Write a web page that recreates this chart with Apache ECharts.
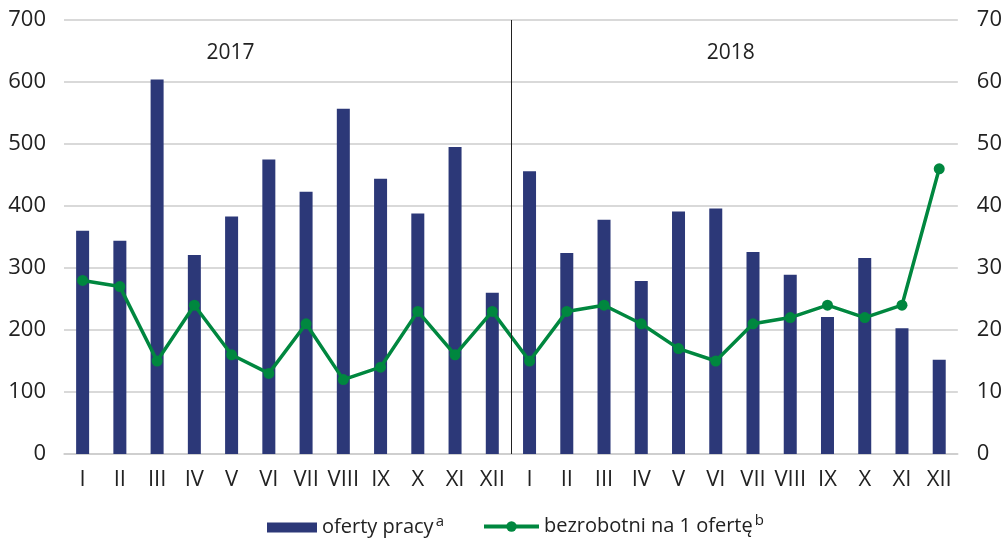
<!DOCTYPE html>
<html>
<head>
<meta charset="utf-8">
<script src="https://cdn.jsdelivr.net/npm/echarts@6/dist/echarts.min.js"></script>
<style>
  html, body { margin: 0; padding: 0; background: #fff; }
  #chart { width: 1005px; height: 544px; }
</style>
</head>
<body>
<div id="chart"></div>
<script>
// miesiące (dwa lata)
const months = ['I', 'II', 'III', 'IV', 'V', 'VI', 'VII', 'VIII', 'IX', 'X', 'XI', 'XII',
  'I', 'II', 'III', 'IV', 'V', 'VI', 'VII', 'VIII', 'IX', 'X', 'XI', 'XII'];
// oferty pracy
const offers = [360, 344, 604, 321, 383, 475, 423, 557, 444, 388, 495, 260,
  456, 324, 378, 279, 391, 396, 326, 289, 221, 316, 203, 152];
// bezrobotni na 1 ofertę
const perOffer = [28, 27, 15, 24, 16, 13, 21, 12, 14, 23, 16, 23,
  15, 23, 24, 21, 17, 15, 21, 22, 24, 22, 24, 46];
const years = ['2017', '2018'];

const FONT = '"Open Sans", "Noto Sans", sans-serif';
const NAVY = '#2c3878';
const GREEN = '#00873f';

let chart = echarts.init(document.getElementById('chart'), null, { renderer: 'canvas' });

const legendRich = {
  t: { fontSize: 20, color: '#222', fontFamily: FONT },
  s: { fontSize: 15, color: '#222', fontFamily: FONT, padding: [0, 0, 12, 2] }
};

let option = {
  backgroundColor: '#ffffff',
  animation: false,
  grid: { left: 64, right: 45, top: 20, bottom: 90 },
  legend: [{
    data: ['oferty pracy'],
    left: 267, top: 514, padding: 0,
    itemWidth: 50, itemHeight: 10,
    itemGap: 5,
    icon: 'rect',
    formatter: () => '{t|oferty pracy}{s|a}',
    textStyle: { rich: legendRich }
  }, {
    data: [{
      name: 'bezrobotni na 1 ofertę',
      lineStyle: { width: 4, color: GREEN },
      itemStyle: { color: GREEN }
    }],
    left: 482, top: 513, padding: 0,
    itemWidth: 55, itemHeight: 13,
    itemGap: 5,
    lineStyle: { width: 4 },
    formatter: () => '{t|bezrobotni na 1 ofertę}{s|b}',
    textStyle: { rich: legendRich }
  }],
  xAxis: {
    type: 'category',
    data: months,
    axisLine: { show: true, lineStyle: { color: '#cccccc', width: 1.5 } },
    axisTick: { show: false },
    axisLabel: { color: '#222', fontSize: 22, fontFamily: FONT, margin: 15, interval: 0 }
  },
  yAxis: [{
    type: 'value',
    min: 0, max: 700, interval: 100,
    axisLine: { show: false },
    axisTick: { show: false },
    splitLine: { lineStyle: { color: '#cccccc', width: 1.5 } },
    axisLabel: { color: '#222', fontSize: 22, fontFamily: FONT, margin: 18 }
  }, {
    type: 'value',
    min: 0, max: 70, interval: 10,
    axisLine: { show: false },
    axisTick: { show: false },
    splitLine: { show: false },
    axisLabel: { color: '#222', fontSize: 22, fontFamily: FONT, margin: 19 }
  }],
  series: [{
    name: 'oferty pracy',
    type: 'bar',
    data: offers,
    barWidth: 13,
    itemStyle: { color: NAVY }
  }, {
    name: 'bezrobotni na 1 ofertę',
    type: 'line',
    yAxisIndex: 1,
    data: perOffer,
    symbol: 'circle',
    symbolSize: 11,
    lineStyle: { color: GREEN, width: 3.5 },
    itemStyle: { color: GREEN }
  }]
};
chart.setOption(option);

// linia oddzielająca lata i podpisy lat
let p11 = chart.convertToPixel({ xAxisIndex: 0 }, 11);
let p12 = chart.convertToPixel({ xAxisIndex: 0 }, 12);
let step = p12 - p11;
let sepX = Math.round((p11 + p12) / 2) + 0.5;
let yTop = chart.convertToPixel({ yAxisIndex: 0 }, 700);
let yBottom = chart.convertToPixel({ yAxisIndex: 0 }, 0);
let x0 = chart.convertToPixel({ xAxisIndex: 0 }, 0);
chart.setOption({
  graphic: [{
    type: 'line',
    shape: { x1: sepX, y1: yTop, x2: sepX, y2: yBottom },
    style: { stroke: '#222', lineWidth: 1 },
    z: 10
  }, {
    type: 'text',
    x: x0 + step * 3.97, y: 53,
    style: { text: years[0], fontSize: 21, fontFamily: FONT, fill: '#222', align: 'center', verticalAlign: 'middle' }
  }, {
    type: 'text',
    x: x0 + step * 17.4, y: 53,
    style: { text: years[1], fontSize: 21, fontFamily: FONT, fill: '#222', align: 'center', verticalAlign: 'middle' }
  }]
});
</script>
</body>
</html>
